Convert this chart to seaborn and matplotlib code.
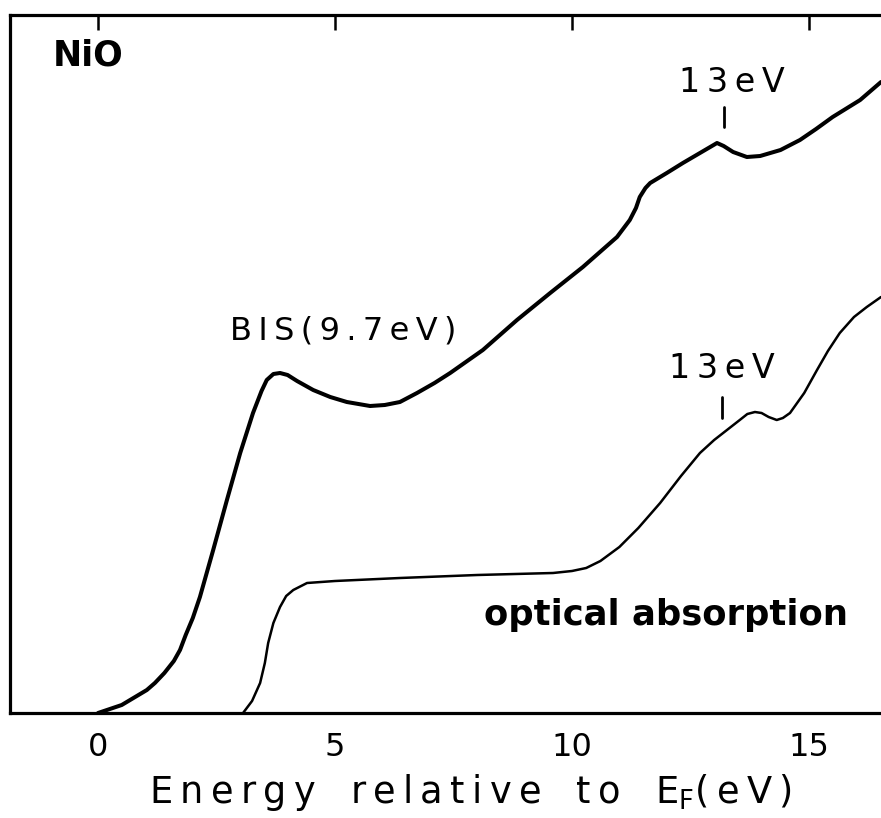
import numpy as np
import pandas as pd
import matplotlib
matplotlib.use('Agg')
import matplotlib.pyplot as plt
import seaborn as sns

# BIS spectrum (thick curve), energy in eV vs intensity (arb. units)
bis_energy = [0.0, 0.5, 1.03, 1.2, 1.4, 1.6, 1.73, 1.85, 2.0, 2.15, 2.43, 2.72, 3.0, 3.27, 3.45,
              3.56, 3.7, 3.84, 4.0, 4.2, 4.54, 4.9, 5.25, 5.74, 6.05, 6.37, 6.73, 7.1, 7.43,
              8.12, 8.84, 9.54, 10.23, 10.95, 11.22, 11.35, 11.43, 11.55, 11.65, 12.0, 12.34,
              12.7, 13.06, 13.2, 13.4, 13.69, 13.97, 14.4, 14.81, 15.15, 15.5, 16.08, 16.52]
bis_intensity = [0, 8, 23, 30, 40, 52, 63, 78, 95, 116, 163, 213, 260, 300, 322,
                 333, 339, 340, 338, 332, 323, 316, 311, 307, 308, 311, 320, 330, 340,
                 363, 393, 420, 446, 476, 493, 505, 516, 525, 530, 540, 550,
                 560, 570, 567, 561, 556, 557, 563, 573, 584, 596, 613, 631]

# optical absorption (thin curve)
opt_energy = [3.06, 3.25, 3.42, 3.52, 3.59, 3.7, 3.84, 3.97, 4.12, 4.41, 5.0, 6.37, 8.0, 9.6,
              10.0, 10.3, 10.6, 11.0, 11.4, 11.86, 12.3, 12.7, 13.0, 13.27, 13.54, 13.7, 13.86,
              14.0, 14.15, 14.32, 14.45, 14.6, 14.9, 15.17, 15.4, 15.65, 15.95, 16.22, 16.52]
opt_intensity = [0, 12, 30, 50, 70, 90, 106, 117, 123, 130, 132, 135, 138, 140,
                 142, 145, 152, 166, 185, 210, 237, 260, 273, 283, 293, 299, 301,
                 300, 296, 293, 295, 300, 320, 343, 362, 380, 396, 406, 416]

x_ticks = [0, 5, 10, 15]

bis = pd.DataFrame({'energy': bis_energy, 'intensity': bis_intensity})
opt = pd.DataFrame({'energy': opt_energy, 'intensity': opt_intensity})

sns.set_style('white')
plt.rcParams['font.family'] = ['DejaVu Sans']
plt.rcParams['text.color'] = 'black'
plt.rcParams['axes.labelcolor'] = 'black'

def spaced(s):
    return '\u2009'.join(s)

fig = plt.figure(figsize=(8.81, 8.18), dpi=100)
ax = fig.add_axes([10 / 881, 105 / 818, 871 / 881, 698 / 818])

sns.lineplot(data=bis, x='energy', y='intensity', ax=ax, color='black', linewidth=2.9,
             sort=False, estimator=None)
sns.lineplot(data=opt, x='energy', y='intensity', ax=ax, color='black', linewidth=1.8,
             sort=False, estimator=None)

ax.set_xlim(-1.857, 16.52)
ax.set_ylim(0, 698)

for s in ['left', 'bottom', 'top']:
    ax.spines[s].set_linewidth(2.3)
    ax.spines[s].set_color('black')
ax.spines['right'].set_visible(False)

ax.set_xticks(x_ticks)
ax.set_xticklabels([str(t) for t in x_ticks])
ax.set_yticks([])
ax.tick_params(axis='x', direction='in', top=True, length=11, width=1.8,
               labelsize=23, pad=14, colors='black')

ax.set_xlabel(spaced('Energy') + '   ' + spaced('relative') + '   ' + spaced('to')
              + '   E$_\\mathrm{F}$' + spaced('(eV)'), fontsize=26.5)
ax.xaxis.set_label_coords(0.529, -0.085)
ax.set_ylabel('')

# annotations
ax.text(-0.2, 657, 'NiO', fontsize=25, fontweight='bold', ha='center', va='center')
ax.text(13.38, 630, spaced('13eV'), fontsize=24, ha='center', va='center')
ax.plot([13.2, 13.2], [586, 606], color='black', linewidth=2)
ax.text(13.16, 345, spaced('13eV'), fontsize=24, ha='center', va='center')
ax.plot([13.16, 13.16], [295, 316], color='black', linewidth=2)
ax.text(5.17, 382, spaced('BIS(9.7eV)'), fontsize=23, ha='center', va='center')
ax.text(11.98, 98, 'optical absorption', fontsize=25.5, fontweight='bold',
        ha='center', va='center')

fig.savefig('out.png', dpi=100)
